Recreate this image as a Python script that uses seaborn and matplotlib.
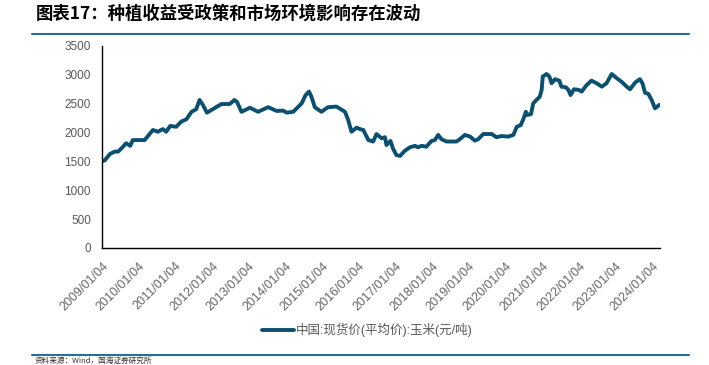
import pandas as pd
import matplotlib.pyplot as plt
import matplotlib.dates as mdates
from matplotlib.lines import Line2D
import seaborn as sns

title = "图表17：种植收益受政策和市场环境影响存在波动"
series_name = "中国:现货价(平均价):玉米(元/吨)"
source = "资料来源：Wind，国海证券研究所"

dates = [
    "2009-01-04", "2009-02-01", "2009-03-25", "2009-05-10", "2009-06-13", "2009-07-16",
    "2009-09-01", "2009-10-12", "2009-11-06", "2010-03-04", "2010-05-26", "2010-07-13",
    "2010-09-02", "2010-10-05", "2010-11-14", "2011-01-12", "2011-03-04", "2011-04-24",
    "2011-06-14", "2011-07-31", "2011-09-02", "2011-10-05", "2011-11-14", "2012-01-12",
    "2012-04-06", "2012-06-28", "2012-08-15", "2012-09-09", "2012-10-23", "2013-01-16",
    "2013-04-06", "2013-07-16", "2013-10-08", "2013-12-13", "2014-01-16", "2014-03-22",
    "2014-06-14", "2014-07-24", "2014-08-26", "2014-09-20", "2014-10-23", "2014-12-28",
    "2015-03-04", "2015-05-27", "2015-08-19", "2015-09-20", "2015-10-23", "2015-12-13",
    "2016-01-16", "2016-02-18", "2016-04-08", "2016-05-26", "2016-06-28", "2016-08-19",
    "2016-09-20", "2016-10-05", "2016-11-14", "2016-12-09", "2017-01-12", "2017-02-18",
    "2017-04-06", "2017-05-27", "2017-07-16", "2017-08-15", "2017-09-20", "2017-11-06",
    "2017-12-28", "2018-01-30", "2018-03-04", "2018-04-06", "2018-05-27", "2018-09-02",
    "2018-10-05", "2018-11-25", "2019-01-16", "2019-03-04", "2019-04-06", "2019-05-27",
    "2019-08-19", "2019-10-05", "2019-11-25", "2020-01-30", "2020-03-22", "2020-04-24",
    "2020-06-03", "2020-06-28", "2020-07-24", "2020-08-08", "2020-09-13", "2020-10-05",
    "2020-11-06", "2020-12-09", "2020-12-28", "2021-01-08", "2021-02-14", "2021-03-15",
    "2021-04-06", "2021-05-10", "2021-06-22", "2021-07-13", "2021-08-26", "2021-09-20",
    "2021-10-12", "2021-11-14", "2022-01-01", "2022-01-30", "2022-03-22", "2022-05-08",
    "2022-06-28", "2022-08-19", "2022-10-05", "2022-11-25", "2023-01-16", "2023-03-04",
    "2023-04-24", "2023-05-27", "2023-07-16", "2023-09-02", "2023-09-27", "2023-10-23",
    "2023-11-25", "2023-12-28", "2024-01-30", "2024-03-14",
]

prices = [
    1500, 1520, 1630, 1670, 1670, 1725,
    1815, 1770, 1870, 1870, 2045, 2015,
    2060, 2015, 2115, 2100, 2190, 2230,
    2360, 2405, 2565, 2480, 2345, 2405,
    2495, 2495, 2565, 2530, 2360, 2430,
    2360, 2440, 2375, 2380, 2345, 2360,
    2505, 2650, 2710, 2620, 2440, 2360,
    2440, 2450, 2360, 2220, 2015, 2085,
    2060, 2045, 1870, 1845, 1975, 1900,
    1920, 1785, 1855, 1725, 1610, 1595,
    1685, 1745, 1770, 1745, 1770, 1755,
    1855, 1870, 1960, 1885, 1845, 1845,
    1885, 1960, 1930, 1860, 1885, 1975,
    1975, 1920, 1940, 1930, 1960, 2100,
    2130, 2230, 2360, 2305, 2320, 2505,
    2565, 2620, 2740, 2970, 3015, 2970,
    2855, 2925, 2900, 2795, 2785, 2740,
    2650, 2750, 2740, 2710, 2825, 2900,
    2855, 2795, 2855, 3015, 2940, 2880,
    2795, 2750, 2865, 2925, 2855, 2690,
    2670, 2565, 2420, 2480,
]

tick_dates = [f"{y}-01-04" for y in range(2009, 2025)]
y_ticks = [0, 500, 1000, 1500, 2000, 2500, 3000, 3500]

line_color = "#0b4f71"
rule_color = "#2f6b94"
gray = "#595959"

sns.set_style("white")
plt.rcParams["font.family"] = ["Liberation Sans", "Noto Sans CJK SC", "DejaVu Sans"]

df = pd.DataFrame({
    "date": pd.to_datetime(dates),
    "price": prices,
})

fig = plt.figure(figsize=(7.09, 3.65), dpi=100)
ax = fig.add_axes([102 / 709, 1 - 248 / 365, (660 - 102) / 709, (248 - 46) / 365])

sns.lineplot(
    data=df,
    x="date",
    y="price",
    color=line_color,
    linewidth=2.8,
    label=series_name,
    legend=False,
    ax=ax
)

ax.set_xlim(pd.Timestamp("2009-01-04"), pd.Timestamp("2024-03-20"))
ax.set_ylim(0, 3500)
ax.set_yticks(y_ticks)
ax.set_xticks(pd.to_datetime(tick_dates))
ax.xaxis.set_major_formatter(mdates.DateFormatter("%Y/%m/%d"))
ax.set_xlabel("")
ax.set_ylabel("")

for side in ["top", "right"]:
    ax.spines[side].set_visible(False)
for side in ["left", "bottom"]:
    ax.spines[side].set_color("black")
    ax.spines[side].set_linewidth(1.0)

ax.tick_params(axis="y", length=0, pad=8, labelsize=8.5, labelcolor=gray)
ax.tick_params(axis="x", direction="in", length=3, width=0.8, color="black",
               pad=8.5, labelsize=9, labelcolor="#666666")
for lbl in ax.get_xticklabels():
    lbl.set_rotation(45)
    lbl.set_ha("right")
    lbl.set_rotation_mode("anchor")

fig.legend(
    handles=[Line2D([], [], color=line_color, linewidth=2.8)],
    labels=[series_name],
    loc="center",
    bbox_to_anchor=(367 / 709, 1 - 330 / 365),
    frameon=False,
    fontsize=9,
    labelcolor=gray,
    handlelength=2.6,
    handletextpad=0.1
)

fig.text(36 / 709, 1 - 14 / 365, title, fontsize=12.5, fontweight="bold",
         fontstyle="italic", va="center", ha="left", color="black",
         family=["Noto Sans CJK SC", "DejaVu Sans"])
fig.add_artist(Line2D([32 / 709, 689 / 709], [1 - 34 / 365] * 2,
                      color=rule_color, linewidth=1.5))
fig.add_artist(Line2D([32 / 709, 689 / 709], [1 - 355 / 365] * 2,
                      color=rule_color, linewidth=1.5))
fig.text(35 / 709, 1 - 357 / 365, source, fontsize=5.5, va="top", ha="left",
         color="#333333", family=["Noto Sans CJK SC", "DejaVu Sans"])

plt.savefig("out.png", dpi=100)
plt.close()
